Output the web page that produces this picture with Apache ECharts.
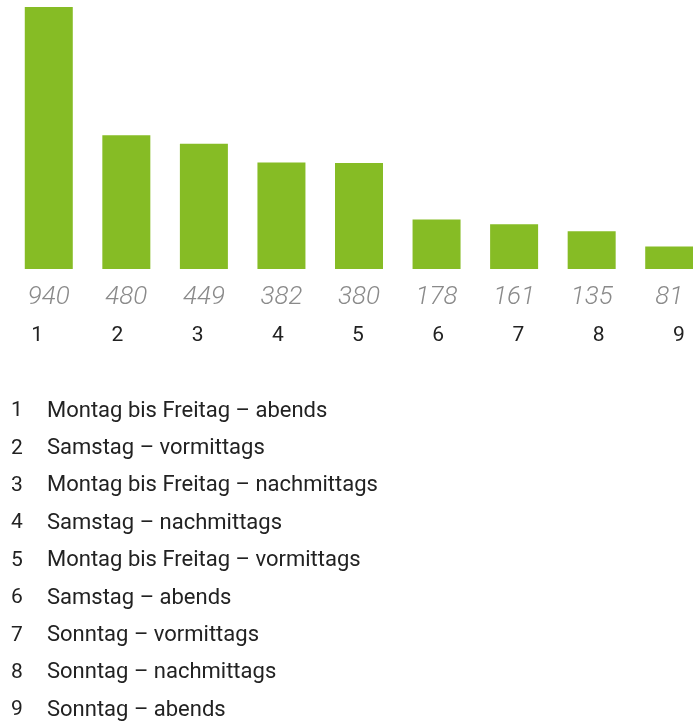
<!DOCTYPE html>
<html>
<head>
<meta charset="utf-8">
<script src="https://cdn.jsdelivr.net/npm/echarts@6/dist/echarts.min.js"></script>
<style>
	html, body { margin: 0; padding: 0; background: #fff; }
	#chart { width: 693px; height: 724px; }
</style>
</head>
<body>
<div id="chart"></div>
<script>
	//   Kategorien
	var categories = ['1', '2', '3', '4', '5', '6', '7', '8', '9'];
	//   Werte
	var values = [940, 480, 449, 382, 380, 178, 161, 135, 81];
	//   Beschriftungen
	var labels = [
		'Montag bis Freitag – abends',
		'Samstag – vormittags',
		'Montag bis Freitag – nachmittags',
		'Samstag – nachmittags',
		'Montag bis Freitag – vormittags',
		'Samstag – abends',
		'Sonntag – vormittags',
		'Sonntag – nachmittags',
		'Sonntag – abends'
	];

	var font = 'Roboto, "DejaVu Sans", sans-serif';

	var myChart = echarts.init(document.getElementById('chart'));

	//   Liste unten
	var list = [];
	for (var i = 0; i < categories.length; i++) {
		var y = 411 + i * 37.4;
		list.push({
			type: 'text',
			x: 17, y: y,
			style: { text: categories[i], font: '21px ' + font, fill: '#222', align: 'center', verticalAlign: 'middle' }
		});
		list.push({
			type: 'text',
			x: 47, y: y,
			style: { text: labels[i], font: '22px ' + font, fill: '#222', align: 'left', verticalAlign: 'middle' }
		});
	}

	var option = {
		animation: false,
		backgroundColor: '#fff',
		grid: [
			{ left: 10, width: 698, top: 7, height: 262, outerBoundsMode: 'none', containLabel: false },
			{ left: -3, width: 722, top: 325, height: 0, outerBoundsMode: 'none', containLabel: false }
		],
		xAxis: [{
			type: 'category',
			gridIndex: 0,
			data: categories,
			axisLine: { show: false },
			axisTick: { show: false },
			axisLabel: {
				margin: 15,
				hideOverlap: false,
				fontFamily: font,
				fontSize: 26,
				fontStyle: 'italic',
				fontWeight: 300,
				color: '#8a8a8a',
				formatter: function (v, idx) { return values[idx]; }
			}
		}, {
			type: 'category',
			gridIndex: 1,
			data: categories,
			axisLine: { show: false },
			axisTick: { show: false },
			axisLabel: {
				margin: 0,
				fontFamily: font,
				fontSize: 21,
				color: '#222'
			}
		}],
		yAxis: [{
			type: 'value',
			gridIndex: 0,
			min: 0,
			max: 940,
			show: false
		}, {
			type: 'value',
			gridIndex: 1,
			show: false
		}],
		series: [{
			type: 'bar',
			xAxisIndex: 0,
			yAxisIndex: 0,
			data: values,
			barWidth: 48,
			itemStyle: { color: '#86bc25' }
		}],
		graphic: list
	};

	myChart.setOption(option);
</script>
</body>
</html>
